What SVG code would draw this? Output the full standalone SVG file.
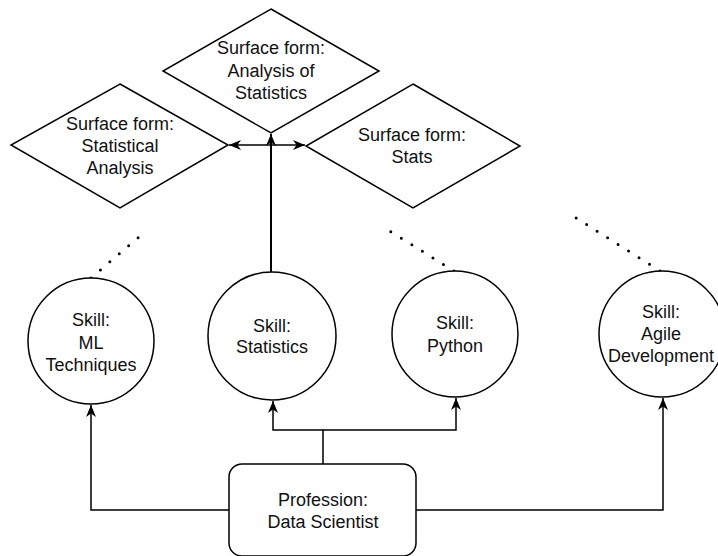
<svg xmlns="http://www.w3.org/2000/svg" width="718" height="556" viewBox="0 0 718 556">
<style>
.shape{fill:#fff;stroke:#000;stroke-width:1.5}
.lbl{font-family:"Liberation Sans",Arial,Helvetica,sans-serif;font-size:18px;fill:#111;text-anchor:middle}
.edge{fill:none;stroke:#000;stroke-width:1.5}
.dot{fill:none;stroke:#000;stroke-width:3;stroke-linecap:round;stroke-dasharray:0 12.4}
</style>
<defs>
<marker id="arr" viewBox="0 0 12 12" refX="12" refY="6" markerWidth="12" markerHeight="12" markerUnits="userSpaceOnUse" orient="auto">
<path d="M0,1 L12,6 L0,11 L3.5,6 Z" fill="#000"/>
</marker>
</defs>
<rect width="718" height="556" fill="#fff"/>
<g id="connectors">
<path class="edge" d="M229,510 H91 V405" marker-end="url(#arr)"/>
<path class="edge" d="M416,510 H663 V398" marker-end="url(#arr)"/>
<path class="edge" d="M323,464 V430 H273 V401" marker-end="url(#arr)"/>
<path class="edge" d="M323,430 H456 V398" marker-end="url(#arr)"/>
<path class="edge" style="stroke-width:2" d="M271,272 V134" marker-end="url(#arr)"/>
<path class="edge" d="M271,145 H229" marker-end="url(#arr)"/>
<path class="edge" d="M271,145 H305" marker-end="url(#arr)"/>
<path class="dot" d="M91,278 L140,236"/>
<path class="dot" d="M454,271 L388,230"/>
<path class="dot" d="M660,271 L573,216"/>
</g>
<g id="sf-analysis-of-statistics">
<polygon class="shape" points="271,9 379,71 271,133 163,71"/>
<text class="lbl" x="271" y="54">Surface form:</text>
<text class="lbl" x="271" y="77">Analysis of</text>
<text class="lbl" x="271" y="99">Statistics</text>
</g>
<g id="sf-statistical-analysis">
<polygon class="shape" points="120,84 228,145 120,208 11,145"/>
<text class="lbl" x="120" y="130">Surface form:</text>
<text class="lbl" x="120" y="152">Statistical</text>
<text class="lbl" x="120" y="174">Analysis</text>
</g>
<g id="sf-stats">
<polygon class="shape" points="413,84 520,146 413,208 306,146"/>
<text class="lbl" x="412" y="141">Surface form:</text>
<text class="lbl" x="412" y="163">Stats</text>
</g>
<g id="skill-ml">
<circle class="shape" cx="91" cy="341" r="63"/>
<text class="lbl" x="91" y="326">Skill:</text>
<text class="lbl" x="91" y="349">ML</text>
<text class="lbl" x="91" y="371">Techniques</text>
</g>
<g id="skill-statistics">
<circle class="shape" cx="272" cy="336" r="64"/>
<text class="lbl" x="272" y="332">Skill:</text>
<text class="lbl" x="272" y="353">Statistics</text>
</g>
<g id="skill-python">
<circle class="shape" cx="455" cy="334" r="63"/>
<text class="lbl" x="455" y="329">Skill:</text>
<text class="lbl" x="455" y="352">Python</text>
</g>
<g id="skill-agile">
<circle class="shape" cx="662" cy="334" r="63"/>
<text class="lbl" x="661" y="318">Skill:</text>
<text class="lbl" x="661" y="340">Agile</text>
<text class="lbl" x="661" y="362">Development</text>
</g>
<g id="profession">
<rect class="shape" x="229" y="464" width="187" height="92" rx="13"/>
<text class="lbl" x="323" y="506">Profession:</text>
<text class="lbl" x="323" y="528">Data Scientist</text>
</g>
</svg>
